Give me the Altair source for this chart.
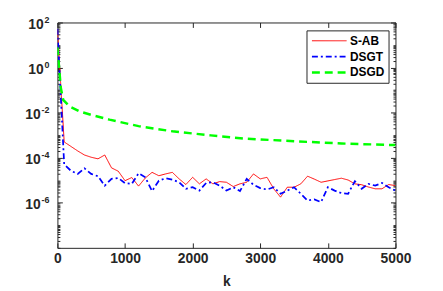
import altair as alt
import pandas as pd

# ---------------- data ----------------
k_steps = [0, 100, 200, 300, 400, 500, 600, 700, 800, 900,
           1000, 1100, 1200, 1300, 1400, 1500, 1600, 1700, 1800, 1900,
           2000, 2100, 2200, 2300, 2400, 2500, 2600, 2700, 2800, 2900,
           3000, 3100, 3200, 3300, 3400, 3500, 3600, 3700, 3800, 3900,
           4000, 4100, 4200, 4300, 4400, 4500, 4600, 4700, 4800, 4900, 5000]

# log10 of the plotted values
sab_log = [1.7, -3.3, -3.5, -3.7, -3.88, -3.98, -4.05, -3.88, -4.45, -4.6,
           -5.02, -4.88, -5.26, -4.9, -4.65, -4.8, -4.72, -4.65, -4.94, -5.19,
           -4.87, -5.16, -4.94, -5.16, -5.06, -5.09, -5.28, -5.16, -5.09, -4.72,
           -4.94, -4.87, -5.38, -5.75, -5.31, -5.31, -5.16, -4.82, -4.95, -5.09,
           -5.03, -4.97, -4.91, -4.99, -5.16, -5.2, -5.3, -5.38, -5.38, -5.19, -5.24]

dsgt_log = [1.72, -4.3, -4.58, -4.72, -4.47, -4.72, -4.82, -5.24, -4.94, -4.9,
            -5.13, -5.16, -4.69, -4.87, -5.48, -5.02, -4.91, -4.97, -5.09, -5.38,
            -5.31, -5.46, -5.12, -5.09, -5.24, -5.46, -5.31, -5.48, -4.94, -5.2,
            -5.35, -5.41, -5.31, -5.6, -5.46, -5.31, -5.6, -5.9, -5.85, -5.97,
            -5.31, -5.46, -5.57, -5.6, -5.04, -5.38, -5.16, -5.24, -5.12, -5.31, -5.46]

dsgd_k = [0, 25, 50, 85, 180, 330, 500, 770, 1200, 1700, 2270, 2760, 3500, 4200, 5000]
dsgd_log = [0.9, 0.0, -0.9, -1.43, -1.73, -1.95, -2.1, -2.31, -2.6, -2.83,
            -3.01, -3.15, -3.27, -3.37, -3.44]

series_names = ["S-AB", "DSGT", "DSGD"]
series_colors = ["#ff0000", "#0000ff", "#00ff00"]

x_ticks = [0, 1000, 2000, 3000, 4000, 5000]
y_major = [1e2, 1e0, 1e-2, 1e-4, 1e-6]
y_exponents = ["2", "0", "-2", "-4", "-6"]
y_minor = [m * 10.0 ** e for e in range(-8, 2) for m in range(1, 10)] + [1e2]
y_major_pos = [1e2, 1e0]
y_major_neg = [1e-2, 1e-4, 1e-6]

# ---------------- table ----------------
rows = []
for k, v in zip(k_steps, sab_log):
    rows.append({"k": k, "value": 10.0 ** v, "series": "S-AB"})
for k, v in zip(k_steps, dsgt_log):
    rows.append({"k": k, "value": 10.0 ** v, "series": "DSGT"})
for k, v in zip(dsgd_k, dsgd_log):
    rows.append({"k": k, "value": 10.0 ** v, "series": "DSGD"})
df = pd.DataFrame(rows)

FONT = "Liberation Sans"
AXIS_COLOR = "#262626"

exp_parts = [f"abs(datum.value/{val!r} - 1) < 1e-6 ? '{lab}'" for val, lab in zip(y_major, y_exponents)]
exp_expr = " : ".join(exp_parts) + " : ''"
major_test = " || ".join(f"abs(datum.value/{v!r} - 1) < 1e-6" for v in y_major)
tick_size = {"condition": {"test": major_test, "expr": "-5"}, "expr": "-2.5"}

x_scale = alt.Scale(domain=[0, 5000], nice=False, zero=False)
y_scale = alt.Scale(type="log", domain=[1e-8, 1e2], nice=False)

lines = alt.Chart(df).mark_line(clip=True).encode(
    x=alt.X("k:Q", scale=x_scale,
            axis=alt.Axis(values=x_ticks, format="d", title="k", titleFont=FONT,
                          titleFontWeight="bold", titleFontSize=14,
                          titleColor=AXIS_COLOR, titlePadding=9,
                          tickSize=alt.ExprRef(expr="-5"), labelPadding=9,
                          labelFlush=False, grid=False, domain=False,
                          tickColor=AXIS_COLOR, labelColor=AXIS_COLOR,
                          labelFont=FONT, labelFontWeight="bold", labelFontSize=14)),
    y=alt.Y("value:Q", scale=y_scale,
            axis=alt.Axis(values=y_minor, labels=False, title=None,
                          tickSize=tick_size, grid=False, domain=False,
                          tickColor=AXIS_COLOR)),
    color=alt.Color("series:N", scale=alt.Scale(domain=series_names, range=series_colors),
                    legend=alt.Legend(title=None)),
    strokeDash=alt.StrokeDash("series:N",
                              scale=alt.Scale(domain=series_names,
                                              range=[[1, 0], [6, 3, 2, 3], [8, 5]]),
                              legend=alt.Legend(title=None)),
    strokeWidth=alt.StrokeWidth("series:N",
                                scale=alt.Scale(domain=series_names, range=[1, 2.5, 2.5]),
                                legend=alt.Legend(title=None)),
)

# mirrored ticks on top / right
mirror = alt.Chart(df).mark_line(opacity=0).encode(
    x=alt.X("k:Q", scale=x_scale,
            axis=alt.Axis(orient="top", values=x_ticks, labels=False, title=None,
                          tickSize=alt.ExprRef(expr="-5"), grid=False, domain=False,
                          tickColor=AXIS_COLOR)),
    y=alt.Y("value:Q", scale=y_scale,
            axis=alt.Axis(orient="right", values=y_minor, labels=False, title=None,
                          tickSize=tick_size, grid=False, domain=False,
                          tickColor=AXIS_COLOR)),
    detail="series:N",
)


def label_layer(values, label_expr, padding, size, offset):
    return alt.Chart(df).mark_line(opacity=0).encode(
        x=alt.X("k:Q", scale=x_scale, axis=None),
        y=alt.Y("value:Q", scale=y_scale,
                axis=alt.Axis(orient="left", values=values, labelExpr=label_expr,
                              title=None, ticks=False, grid=False, domain=False,
                              labelPadding=padding, labelOffset=offset,
                              labelFlush=False, labelOverlap=False,
                              labelFont=FONT, labelFontWeight="bold",
                              labelFontSize=size, labelColor=AXIS_COLOR)),
        detail="series:N",
    )


base_neg = label_layer(y_major_neg, "'10'", 17.5, 14, 2)
base_pos = label_layer(y_major_pos, "'10'", 14.5, 14, 2)
expo = label_layer(y_major, exp_expr, 8.5, 9, -3)

chart = alt.layer(lines, mirror, base_neg, base_pos, expo).resolve_axis(
    x="independent", y="independent"
).properties(
    width=342, height=228,
    padding={"left": 50, "top": 13, "right": 40, "bottom": 42},
    autosize=alt.AutoSizeParams(type="none"),
).configure_view(
    stroke=AXIS_COLOR, strokeWidth=1,
).configure_legend(
    orient="none", legendX=252, legendY=8,
    fillColor="white", strokeColor=AXIS_COLOR, padding=4,
    symbolType="stroke", symbolSize=1225, symbolStrokeColor=None, clipHeight=13,
    labelFont=FONT, labelFontWeight="bold", labelFontSize=12, labelColor="#000000",
    labelOffset=2, rowPadding=3, cornerRadius=0,
)

chart.save("out.html", embed_options={"renderer": "svg", "actions": False})
